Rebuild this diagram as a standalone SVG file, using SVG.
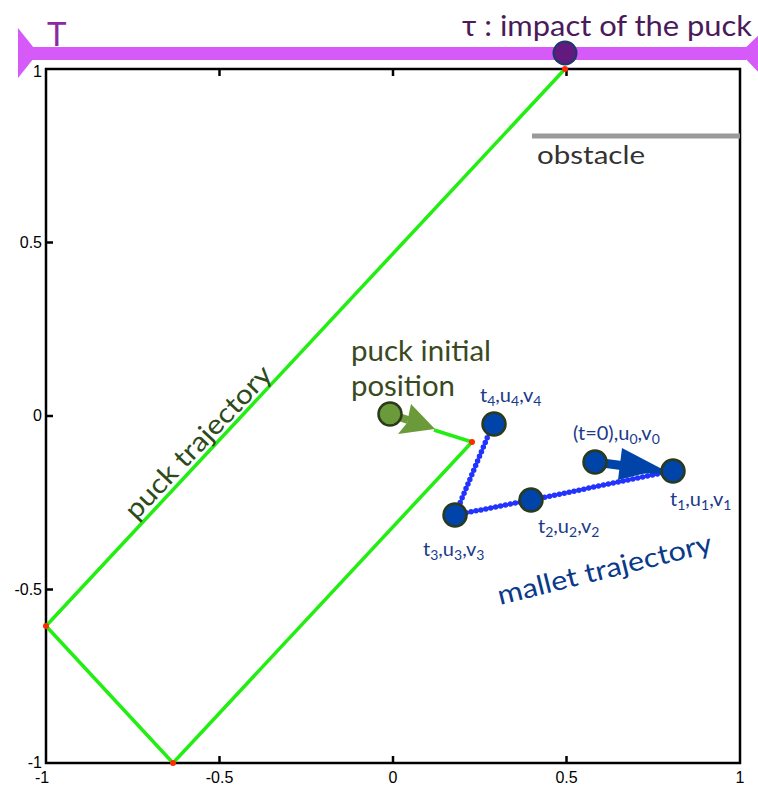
<svg xmlns="http://www.w3.org/2000/svg" width="758" height="787" viewBox="0 0 758 787">
<style>
.tick{font-family:"Liberation Sans",Arial,sans-serif;font-size:16px;fill:#000}
.hum{font-family:Lato,"Open Sans",sans-serif}
.lbl{font-family:Lato,"Open Sans",sans-serif;font-size:20px;fill:#1a3a8a}
.sub{font-size:14px}
.mallet{fill:#0044aa;stroke:#2a3a1a;stroke-width:2.5}
.red{fill:#ff2a00}
.dots{stroke:#2233ff;stroke-width:5.5;stroke-dasharray:0 5;stroke-linecap:round;fill:none}
.thin{stroke:#2233ff;stroke-width:2;fill:none}
</style>
<rect width="758" height="787" fill="#fff"/>

<!-- axes -->
<g id="axes">
<rect x="46" y="69" width="694" height="694" fill="none" stroke="#000" stroke-width="2.5"/>
<g stroke="#000" stroke-width="2.5">
<line x1="219.5" y1="763" x2="219.5" y2="756"/>
<line x1="393" y1="763" x2="393" y2="756"/>
<line x1="566.5" y1="763" x2="566.5" y2="756"/>
<line x1="219.5" y1="69" x2="219.5" y2="76"/>
<line x1="393" y1="69" x2="393" y2="76"/>
<line x1="566.5" y1="69" x2="566.5" y2="76"/>
<line x1="46" y1="242.5" x2="53" y2="242.5"/>
<line x1="46" y1="416" x2="53" y2="416"/>
<line x1="46" y1="589.5" x2="53" y2="589.5"/>
</g>
<g class="tick" text-anchor="end">
<text x="42" y="77">1</text>
<text x="42" y="248">0.5</text>
<text x="42" y="421">0</text>
<text x="42" y="595">-0.5</text>
<text x="42" y="768">-1</text>
</g>
<g class="tick" text-anchor="middle">
<text x="42" y="783">-1</text>
<text x="219.5" y="783">-0.5</text>
<text x="393" y="783">0</text>
<text x="566.5" y="783">0.5</text>
<text x="740" y="783">1</text>
</g>
</g>

<!-- T bar -->
<g id="timebar">
<rect x="30" y="47" width="716" height="13" fill="#d65af8"/>
<polygon points="18,28 38,53 18,78" fill="#d65af8"/>
<polygon points="762,32 740,53 762,76" fill="#d65af8"/>
<text class="hum" x="47" y="46" font-size="33" fill="#8a2aa0">T</text>
<text class="hum" x="462" y="36" font-size="28" fill="#4a1a5a" textLength="290" lengthAdjust="spacingAndGlyphs">τ : impact of the puck</text>
</g>

<!-- obstacle -->
<g id="obstacle">
<line x1="532" y1="136" x2="740" y2="136" stroke="#999" stroke-width="5"/>
<text class="hum" x="537" y="164" font-size="25" fill="#333" textLength="108" lengthAdjust="spacingAndGlyphs">obstacle</text>
</g>

<!-- connectors -->
<g id="connectors">
<polyline points="565,69 46,626 173,763 472,442 434,430" fill="none" stroke="#22ee11" stroke-width="3.5" stroke-linejoin="round"/>
<polyline class="thin" points="672,471 531,500 455,515 493,424"/>
<polyline class="dots" points="672,471 531,500 455,515 493,424"/>
<!-- mallet arrow -->
<line x1="595" y1="462" x2="625" y2="466" stroke="#0044aa" stroke-width="9"/>
<polygon points="622,448 662,469 618,480" fill="#0044aa"/>
<line x1="640" y1="471" x2="672" y2="471" stroke="#0044aa" stroke-width="5"/>
<!-- puck arrow -->
<line x1="390" y1="414" x2="408" y2="420" stroke="#6a9a3a" stroke-width="8"/>
<polygon points="411,404 435,429 398,434 407,423" fill="#6a9a3a"/>
</g>

<!-- reflection points -->
<g id="hits">
<circle class="red" cx="472" cy="442" r="3"/>
<circle class="red" cx="46" cy="626" r="3"/>
<circle class="red" cx="173" cy="763" r="3"/>
<circle class="red" cx="565" cy="69" r="3"/>
</g>

<g id="impact"><circle cx="565" cy="53" r="11.5" fill="#621a7e" stroke="#1a3a6a" stroke-width="2"/></g>

<g id="puck">
<circle cx="390" cy="414" r="11.5" fill="#6a9a3a" stroke="#2a3a1a" stroke-width="2.5"/>
<text class="hum" font-size="28" fill="#3a4a1e"><tspan x="351" y="361" textLength="140" lengthAdjust="spacingAndGlyphs">puck initial</tspan><tspan x="351" y="396" textLength="104" lengthAdjust="spacingAndGlyphs">position</tspan></text>
</g>

<g id="puck-traj-label">
<text class="hum" font-size="27" fill="#2d4a1a" transform="translate(136,521) rotate(-46.5)" textLength="200" lengthAdjust="spacingAndGlyphs">puck trajectory</text>
</g>

<g id="m4"><circle class="mallet" cx="494" cy="424" r="11.5"/>
<text class="lbl" x="480" y="402">t<tspan class="sub" dy="4">4</tspan><tspan dy="-4">,u</tspan><tspan class="sub" dy="4">4</tspan><tspan dy="-4">,v</tspan><tspan class="sub" dy="4">4</tspan></text></g>
<g id="m3"><circle class="mallet" cx="455" cy="515" r="11.5"/>
<text class="lbl" x="423" y="556">t<tspan class="sub" dy="4">3</tspan><tspan dy="-4">,u</tspan><tspan class="sub" dy="4">3</tspan><tspan dy="-4">,v</tspan><tspan class="sub" dy="4">3</tspan></text></g>
<g id="m2"><circle class="mallet" cx="531" cy="500" r="11.5"/>
<text class="lbl" x="538" y="533">t<tspan class="sub" dy="4">2</tspan><tspan dy="-4">,u</tspan><tspan class="sub" dy="4">2</tspan><tspan dy="-4">,v</tspan><tspan class="sub" dy="4">2</tspan></text></g>
<g id="m0"><circle class="mallet" cx="595" cy="462" r="11.5"/>
<text class="lbl" x="573" y="440">(t=0),u<tspan class="sub" dy="4">0</tspan><tspan dy="-4">,v</tspan><tspan class="sub" dy="4">0</tspan></text></g>
<g id="m1"><circle class="mallet" cx="673" cy="471" r="11.5"/>
<text class="lbl" x="670" y="506">t<tspan class="sub" dy="4">1</tspan><tspan dy="-4">,u</tspan><tspan class="sub" dy="4">1</tspan><tspan dy="-4">,v</tspan><tspan class="sub" dy="4">1</tspan></text></g>

<g id="mallet-traj-label">
<text class="hum" font-size="27" fill="#0a3a8a" transform="translate(500,605) rotate(-14)" textLength="220" lengthAdjust="spacingAndGlyphs">mallet trajectory</text>
</g>
</svg>
